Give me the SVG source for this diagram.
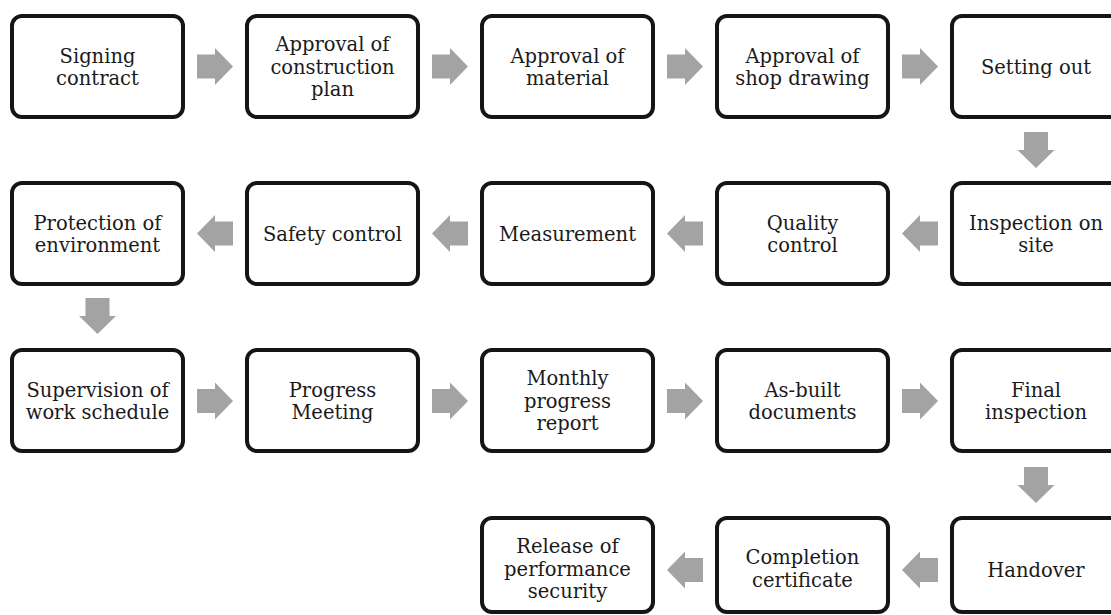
<svg xmlns="http://www.w3.org/2000/svg" width="1111" height="615" viewBox="0 0 1111 615">
<style>
.box{fill:#fff;stroke:#151515;stroke-width:4}
.t{font-family:"DejaVu Serif","Liberation Serif",serif;font-size:19.5px;fill:#1a1a1a;text-anchor:middle}
.arr{fill:#a3a3a3}
</style>
<defs>
<path id="ar" d="M-18,-12 H0 V-18.5 L18,0 L0,18.5 V12 H-18 Z"/>
</defs>
<rect width="1111" height="615" fill="#fff"/>
<g id="connectors" class="arr">
<use href="#ar" transform="translate(215,66.5)"/>
<use href="#ar" transform="translate(450,66.5)"/>
<use href="#ar" transform="translate(685,66.5)"/>
<use href="#ar" transform="translate(920,66.5)"/>
<use href="#ar" transform="translate(1036,150) rotate(90)"/>
<use href="#ar" transform="translate(920,233.5) rotate(180)"/>
<use href="#ar" transform="translate(685,233.5) rotate(180)"/>
<use href="#ar" transform="translate(450,233.5) rotate(180)"/>
<use href="#ar" transform="translate(215,233.5) rotate(180)"/>
<use href="#ar" transform="translate(97.5,316) rotate(90)"/>
<use href="#ar" transform="translate(215,401)"/>
<use href="#ar" transform="translate(450,401)"/>
<use href="#ar" transform="translate(685,401)"/>
<use href="#ar" transform="translate(920,401)"/>
<use href="#ar" transform="translate(1036,485) rotate(90)"/>
<use href="#ar" transform="translate(920,570) rotate(180)"/>
<use href="#ar" transform="translate(685,570) rotate(180)"/>
</g>
<g id="n1"><rect class="box" x="12" y="16" width="171" height="101" rx="10"/><text class="t" x="97.5" y="62.5">Signing</text><text class="t" x="97.5" y="85">contract</text></g>
<g id="n2"><rect class="box" x="247" y="16" width="171" height="101" rx="10"/><text class="t" x="332.5" y="51">Approval of</text><text class="t" x="332.5" y="73.5">construction</text><text class="t" x="332.5" y="96">plan</text></g>
<g id="n3"><rect class="box" x="482" y="16" width="171" height="101" rx="10"/><text class="t" x="567.5" y="62.5">Approval of</text><text class="t" x="567.5" y="85">material</text></g>
<g id="n4"><rect class="box" x="717" y="16" width="171" height="101" rx="10"/><text class="t" x="802.5" y="62.5">Approval of</text><text class="t" x="802.5" y="85">shop drawing</text></g>
<g id="n5"><rect class="box" x="952" y="16" width="171" height="101" rx="10"/><text class="t" x="1036" y="73.5">Setting out</text></g>
<g id="n6"><rect class="box" x="952" y="183" width="171" height="101" rx="10"/><text class="t" x="1036" y="229.5">Inspection on</text><text class="t" x="1036" y="252">site</text></g>
<g id="n7"><rect class="box" x="717" y="183" width="171" height="101" rx="10"/><text class="t" x="802.5" y="229.5">Quality</text><text class="t" x="802.5" y="252">control</text></g>
<g id="n8"><rect class="box" x="482" y="183" width="171" height="101" rx="10"/><text class="t" x="567.5" y="240.5">Measurement</text></g>
<g id="n9"><rect class="box" x="247" y="183" width="171" height="101" rx="10"/><text class="t" x="332.5" y="240.5">Safety control</text></g>
<g id="n10"><rect class="box" x="12" y="183" width="171" height="101" rx="10"/><text class="t" x="97.5" y="229.5">Protection of</text><text class="t" x="97.5" y="252">environment</text></g>
<g id="n11"><rect class="box" x="12" y="350" width="171" height="101" rx="10"/><text class="t" x="97.5" y="396.5">Supervision of</text><text class="t" x="97.5" y="419">work schedule</text></g>
<g id="n12"><rect class="box" x="247" y="350" width="171" height="101" rx="10"/><text class="t" x="332.5" y="396.5">Progress</text><text class="t" x="332.5" y="419">Meeting</text></g>
<g id="n13"><rect class="box" x="482" y="350" width="171" height="101" rx="10"/><text class="t" x="567.5" y="385">Monthly</text><text class="t" x="567.5" y="407.5">progress</text><text class="t" x="567.5" y="430">report</text></g>
<g id="n14"><rect class="box" x="717" y="350" width="171" height="101" rx="10"/><text class="t" x="802.5" y="396.5">As-built</text><text class="t" x="802.5" y="419">documents</text></g>
<g id="n15"><rect class="box" x="952" y="350" width="171" height="101" rx="10"/><text class="t" x="1036" y="396.5">Final</text><text class="t" x="1036" y="419">inspection</text></g>
<g id="n16"><rect class="box" x="952" y="518" width="171" height="94" rx="10"/><text class="t" x="1036" y="577">Handover</text></g>
<g id="n17"><rect class="box" x="717" y="518" width="171" height="94" rx="10"/><text class="t" x="802.5" y="564">Completion</text><text class="t" x="802.5" y="586.5">certificate</text></g>
<g id="n18"><rect class="box" x="482" y="518" width="171" height="94" rx="10"/><text class="t" x="567.5" y="553">Release of</text><text class="t" x="567.5" y="575.5">performance</text><text class="t" x="567.5" y="598">security</text></g>
</svg>
